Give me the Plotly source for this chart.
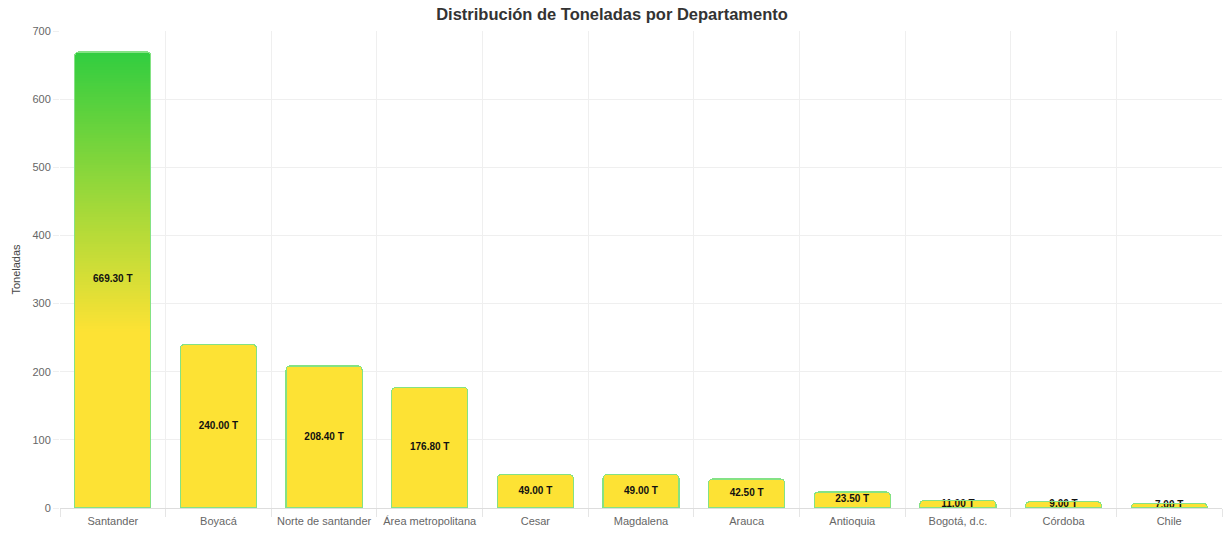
import plotly.graph_objects as go

departamentos = ["Santander", "Boyacá", "Norte de santander", "Área metropolitana", "Cesar",
                 "Magdalena", "Arauca", "Antioquia", "Bogotá, d.c.", "Córdoba", "Chile"]
toneladas = [669.30, 240.00, 208.40, 176.80, 49.00, 49.00, 42.50, 23.50, 11.00, 9.00, 7.00]
y_ticks = [0, 100, 200, 300, 400, 500, 600, 700]

Y_MAX = 700
YELLOW = (253, 226, 52)
GREEN = (48, 205, 64)
GRAD_START = 0.37  # fraction of axis height where gradient begins
STEP = 4


def grad_color(v):
    t = v / Y_MAX
    if t <= GRAD_START:
        c = YELLOW
    else:
        f = min(1.0, (t - GRAD_START) / (0.96 - GRAD_START))
        c = tuple(round(YELLOW[i] + (GREEN[i] - YELLOW[i]) * f) for i in range(3))
    return "rgb(%d,%d,%d)" % c


fig = go.Figure()
base_level = GRAD_START * Y_MAX
fig.add_trace(go.Bar(x=departamentos, y=[min(v, base_level) for v in toneladas],
                     marker=dict(color=grad_color(0), line=dict(width=0), cornerradius=4),
                     hoverinfo="skip", showlegend=False))
max_v = max(toneladas)
lvl = base_level
while lvl < max_v:
    heights = [max(0.0, min(STEP, v - lvl)) for v in toneladas]
    fig.add_trace(go.Bar(x=departamentos, y=heights,
                         marker=dict(color=grad_color(lvl + STEP / 2), line=dict(width=0), cornerradius=4),
                         hoverinfo="skip", showlegend=False))
    lvl += STEP

# border overlay
fig.add_trace(go.Bar(x=departamentos, y=toneladas, xaxis="x2",
                     marker=dict(color="rgba(0,0,0,0)", line=dict(color="#84e284", width=1.2),
                                 cornerradius=4),
                     showlegend=False))

fig.add_trace(go.Scatter(x=departamentos, y=[v / 2 for v in toneladas], mode="text",
                         text=["%.2f T" % v for v in toneladas],
                         textfont=dict(family="Liberation Sans, Arial", size=10, color="#111"),
                         texttemplate="<b>%{text}</b>",
                         showlegend=False, hoverinfo="skip"))

rng = [-0.5, len(departamentos) - 0.5]
fig.update_layout(
    width=1224, height=534,
    margin=dict(l=60, r=2, t=31, b=26),
    barmode="stack",
    bargap=0.28,
    plot_bgcolor="white", paper_bgcolor="white",
    font=dict(family="Liberation Sans, Arial", color="#666", size=11),
    title=dict(text="<b>Distribución de Toneladas por Departamento</b>", x=0.5, xanchor="center",
               y=0.974, yanchor="middle", font=dict(size=16.5, color="#333")),
    xaxis=dict(categoryorder="array", categoryarray=departamentos, range=rng,
               tickson="boundaries", showgrid=True, gridcolor="#efefef", ticks="outside",
               ticklen=8, tickcolor="#e5e5e5", showline=True, linecolor="#dddddd",
               ticklabelstandoff=3,
               tickfont=dict(size=11, color="#666")),
    xaxis2=dict(overlaying="x", categoryorder="array", categoryarray=departamentos, range=rng,
                visible=False),
    yaxis=dict(range=[0, Y_MAX], tickvals=y_ticks, showgrid=True, gridcolor="#efefef",
               ticks="outside", ticklen=6, tickcolor="#efefef", zeroline=False,
               tickfont=dict(size=11, color="#666"),
               title=dict(text="Toneladas", font=dict(size=11, color="#444"), standoff=9)),
)

fig.write_html("out.html", config={"displayModeBar": False},
               post_script="document.body.style.margin='0';")
